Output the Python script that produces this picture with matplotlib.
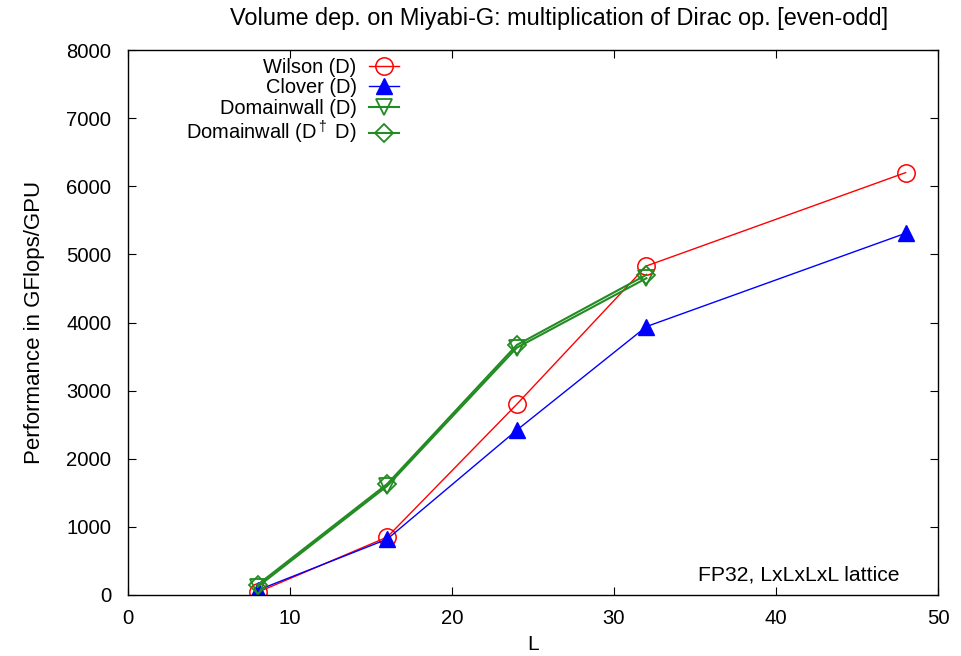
import matplotlib
matplotlib.use("Agg")
import matplotlib.pyplot as plt

plt.rcParams['font.family'] = ['Liberation Sans', 'DejaVu Sans']
plt.rcParams['mathtext.fontset'] = 'custom'
plt.rcParams['mathtext.rm'] = 'Liberation Sans'
plt.rcParams['mathtext.it'] = 'Liberation Sans'

L_wilson = [8, 16, 24, 32, 48]
wilson = [40, 850, 2800, 4830, 6200]
L_clover = [8, 16, 24, 32, 48]
clover = [70, 820, 2420, 3940, 5310]
L_dw = [8, 16, 24, 32]
dw = [120, 1600, 3630, 4650]
L_dtd = [8, 16, 24, 32]
dtd = [150, 1630, 3670, 4700]

title = "Volume dep. on Miyabi-G: multiplication of Dirac op. [even-odd]"

fig = plt.figure(figsize=(9.61, 6.56), dpi=100)
ax = fig.add_axes([128/961, 1-595/656, (938-128)/961, (595-50)/656])

ax.plot(L_wilson, wilson, color='red', lw=1.0, marker='o', ms=12.5, mfc='none', mec='red', mew=1.1, label='Wilson (D)')
ax.plot(L_clover, clover, color='blue', lw=1.0, marker='^', ms=11, mfc='blue', mec='blue', label='Clover (D)')
ax.plot(L_dw, dw, color='#228b22', lw=1.5, marker='v', ms=12, mfc='none', mec='#228b22', mew=1.3, label='Domainwall (D)')
ax.plot(L_dtd, dtd, color='#228b22', lw=1.5, marker='D', ms=9, mfc='none', mec='#228b22', mew=1.3, label=r'Domainwall (D$^\dagger$ D)')

ax.set_xlim(0, 50)
ax.set_ylim(0, 8000)
ax.set_xticks(range(0, 51, 10))
ax.set_yticks(range(0, 8001, 1000))
ax.tick_params(direction='in', top=True, right=True, labelsize=14.6, length=6, width=0.8)
ax.tick_params(axis='x', pad=10)
ax.tick_params(axis='y', pad=12)
for s in ax.spines.values():
    s.set_linewidth(1.0)
ax.set_xlabel('L', fontsize=15, labelpad=5)
ax.set_ylabel('Performance in GFlops/GPU', fontsize=16, labelpad=15)
fig.text(0.582, 1-18/656, title, ha='center', va='center', fontsize=16.9)
ax.text(0.953, 0.02, 'FP32, LxLxLxL lattice', transform=ax.transAxes, ha='right', va='bottom', fontsize=15.2)

leg = ax.legend(loc='upper left', bbox_to_anchor=(0.052, 1.015), markerfirst=False, frameon=False,
                fontsize=14.4, handlelength=1.5, labelspacing=0.07, borderpad=0.3, handletextpad=0.6)
for t in leg.get_texts():
    t.set_ha('right')
leg._legend_box.align = 'right'

fig.savefig('out.png', dpi=100)
